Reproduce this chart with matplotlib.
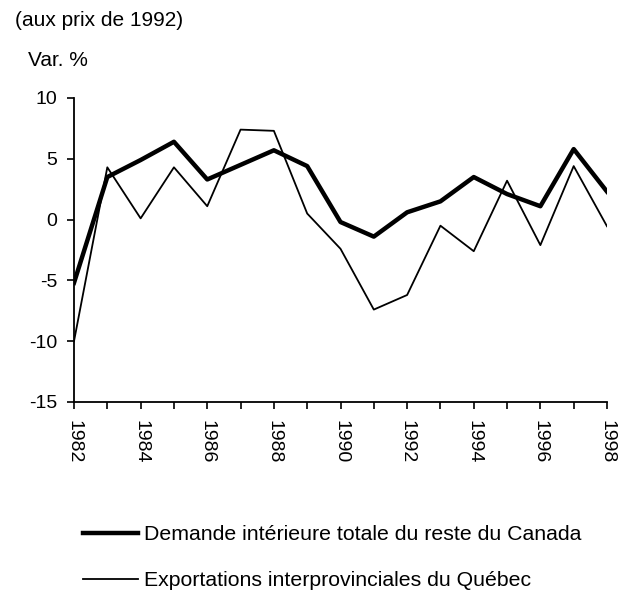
import matplotlib
matplotlib.use("Agg")
from matplotlib import pyplot as plt

years = list(range(1982, 1999))
demande_rdc = [-5.2, 3.5, 4.9, 6.4, 3.3, 4.5, 5.7, 4.4, -0.2, -1.4, 0.6, 1.5, 3.5, 2.1, 1.1, 5.8, 2.3]
export_qc = [-10.0, 4.3, 0.1, 4.3, 1.1, 7.4, 7.3, 0.5, -2.4, -7.4, -6.2, -0.5, -2.6, 3.2, -2.1, 4.4, -0.55]
label_demande = 'Demande intérieure totale du reste du Canada'
label_export = 'Exportations interprovinciales du Québec'

plt.rcParams['font.family'] = ['Liberation Sans', 'DejaVu Sans']
plt.rcParams['font.size'] = 14
plt.rcParams['axes.unicode_minus'] = False

fig = plt.figure(figsize=(6.22, 6.0), dpi=100)
ax = fig.add_axes([74/622, 1 - 402/600, (607 - 74)/622, (402 - 98)/600])

ax.plot(years, demande_rdc, color='black', linewidth=3.2, label=label_demande)
ax.plot(years, export_qc, color='black', linewidth=1.3, label=label_export)

ax.set_xlim(1982, 1998)
ax.set_ylim(-15, 10)
ax.set_yticks([-15, -10, -5, 0, 5, 10])
ax.set_xticks(years)
ax.set_xticklabels([str(y) if y % 2 == 0 else '' for y in years], rotation=270)
ax.tick_params(axis='both', direction='out', length=5, width=1.2, color='black')
ax.tick_params(axis='x', pad=8)
ax.tick_params(axis='y', pad=7)
for s in ['top', 'right']:
    ax.spines[s].set_visible(False)
for s in ['left', 'bottom']:
    ax.spines[s].set_linewidth(1.3)

fig.text(15/622, 1 - 20/600, '(aux prix de 1992)', va='center', ha='left', fontsize=15)
fig.text(28/622, 1 - 61/600, 'Var. %', va='center', ha='left', fontsize=15)

fig.legend(loc='upper left', bbox_to_anchor=(83/622, 1 - 525/600), frameon=False,
           fontsize=15.3, handlelength=2.6, handletextpad=0.25, labelspacing=1.28,
           borderpad=0, borderaxespad=0)

fig.savefig('out.png', dpi=100)
